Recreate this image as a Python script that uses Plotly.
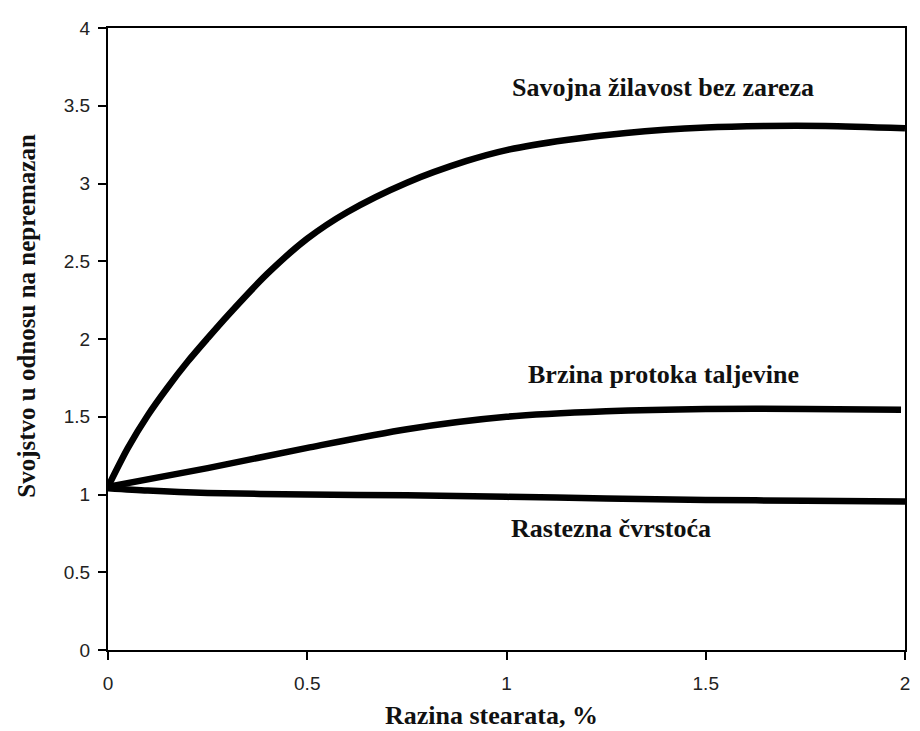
import plotly.graph_objects as go

# Data
x_sav = [0, 0.05, 0.1, 0.15, 0.2, 0.25, 0.3, 0.4, 0.5, 0.6, 0.75, 0.9, 1.0, 1.15, 1.3, 1.5, 1.65, 1.8, 2.0]
y_sav = [1.05, 1.30, 1.51, 1.69, 1.855, 2.005, 2.15, 2.42, 2.645, 2.815, 3.005, 3.145, 3.215, 3.28, 3.325, 3.36, 3.37, 3.37, 3.355]

x_brz = [0, 0.25, 0.5, 0.75, 1.0, 1.25, 1.5, 1.75, 1.99]
y_brz = [1.05, 1.17, 1.30, 1.42, 1.50, 1.535, 1.55, 1.55, 1.545]

x_ras = [0, 0.1, 0.25, 0.5, 0.75, 1.0, 1.25, 1.5, 1.75, 2.0]
y_ras = [1.04, 1.025, 1.01, 1.0, 0.995, 0.985, 0.975, 0.965, 0.96, 0.955]

labels = ["Savojna žilavost bez zareza", "Brzina protoka taljevine", "Rastezna čvrstoća"]
label_x = [1.392, 1.395, 1.263]
label_y = [3.62, 1.77, 0.783]

x_ticks = [0, 0.5, 1, 1.5, 2]
y_ticks = [0, 0.5, 1, 1.5, 2, 2.5, 3, 3.5, 4]

fig = go.Figure()
for xs, ys in [(x_sav, y_sav), (x_brz, y_brz), (x_ras, y_ras)]:
    fig.add_trace(go.Scatter(x=xs, y=ys, mode="lines",
                             line=dict(color="black", width=6.5, shape="spline", smoothing=0.8),
                             showlegend=False, hoverinfo="skip"))

serif = "Liberation Serif, Times New Roman, serif"
for t, lx, ly in zip(labels, label_x, label_y):
    fig.add_annotation(x=lx, y=ly, xref="x", yref="y", text="<b>%s</b>" % t,
                       showarrow=False, xanchor="center", yanchor="middle",
                       font=dict(family=serif, size=26, color="#111111"))

fig.add_annotation(x=0.481, y=-0.105, xref="paper", yref="paper",
                   text="<b>Razina stearata, %</b>", showarrow=False,
                   xanchor="center", yanchor="middle",
                   font=dict(family=serif, size=26, color="#111111"))
fig.add_annotation(x=-0.102, y=0.537, xref="paper", yref="paper",
                   text="<b>Svojstvo u odnosu na nepremazan</b>", showarrow=False,
                   textangle=-90, xanchor="center", yanchor="middle",
                   font=dict(family=serif, size=25, color="#111111"))

axis_common = dict(showgrid=False, zeroline=False, showline=True, linecolor="black",
                   linewidth=2, mirror=True, ticks="outside", ticklen=8,
                   tickwidth=2, tickcolor="black",
                   tickfont=dict(family="Liberation Sans, Arial, sans-serif", size=19, color="#222222"))

fig.update_xaxes(range=[0, 2], tickvals=x_ticks, ticktext=[str(v) for v in x_ticks],
                 ticklabelstandoff=7, **axis_common)
fig.update_yaxes(range=[0, 4], tickvals=y_ticks, ticktext=[("%g" % v) for v in y_ticks],
                 ticklabelstandoff=4, **axis_common)

fig.update_layout(width=912, height=723, plot_bgcolor="white", paper_bgcolor="white",
                  margin=dict(l=100, r=10, t=15, b=81))

fig.write_html("out.html")
